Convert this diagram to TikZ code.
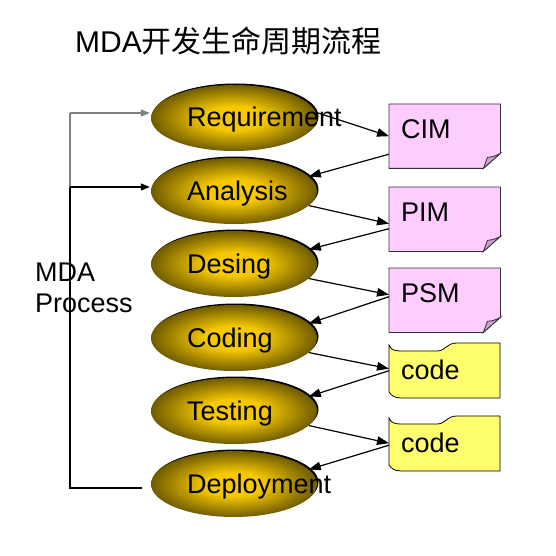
\documentclass[tikz,border=0pt]{standalone}
\usepackage{fontspec}
\setmainfont{Liberation Sans}
\newfontfamily\cjk{Noto Sans CJK SC}
\usetikzlibrary{calc,shapes.geometric,shadows,arrows.meta,backgrounds}

\definecolor{goldin}{RGB}{245,200,0}
\definecolor{goldout}{RGB}{112,92,0}
\definecolor{docpink}{RGB}{255,204,255}
\definecolor{docfold}{RGB}{204,160,210}
\definecolor{tapeyellow}{RGB}{255,255,110}

\pgfdeclareradialshading{goldball}{\pgfpoint{0bp}{0bp}}{%
  color(0bp)=(goldin); color(9bp)=(goldin); color(25bp)=(goldout); color(50bp)=(goldout)}

% folded-corner document behind a node
\newcommand{\docshape}[1]{%
  \filldraw[fill=docpink, draw=black!80, line width=0.8pt] (#1.north west) -- (#1.north east)
    -- ($(#1.south east)+(0,-15)$) -- ($(#1.south east)+(-17,0)$) -- (#1.south west) -- cycle;
  \filldraw[fill=docfold, draw=black!80, line width=0.8pt] ($(#1.south east)+(-17,0)$)
    .. controls ($(#1.south east)+(-15,-5)$) .. ($(#1.south east)+(-13,-11)$)
    .. controls ($(#1.south east)+(-6,-12)$) .. ($(#1.south east)+(0,-15)$) -- cycle;
}
% wavy tape behind a node
\newcommand{\tapeshape}[1]{%
  \begin{scope}[shift={(#1.north west)}]
    \filldraw[fill=tapeyellow, draw=black, line width=0.8pt] (0,3) .. controls (2,8) and (6,9) .. (12,9)
      -- (48,9) .. controls (57,9) and (57,1) .. (68,1) -- (111,1) -- (111,56)
      -- (12,56) .. controls (5,56) and (2,53) .. (0,50) -- cycle;
  \end{scope}
}

\begin{document}
\begin{tikzpicture}[x=1pt, y=-1pt,
    phase/.style={ellipse, minimum width=166pt, minimum height=66pt, inner sep=0pt,
      shade, shading=goldball,
      general shadow={fill=black, shadow xshift=1.5pt, shadow yshift=1.5pt}},
    phasetext/.style={anchor=base west, inner sep=0pt, font=\fontsize{27}{32}\selectfont},
    doc/.style={anchor=north west, text width=87pt, inner xsep=12pt, inner ysep=0pt,
      text height=34pt, text depth=30pt, font=\fontsize{27}{32}\selectfont},
    tape/.style={anchor=north west, text width=87pt, inner xsep=12pt, inner ysep=0pt,
      minimum height=56pt, font=\fontsize{27}{32}\selectfont},
    flow/.style={-{Triangle[length=12pt,width=8.5pt]}, line width=1.2pt}]

  \useasboundingbox (0,0) rectangle (555,556);

  % Title
  \node[anchor=base west, inner sep=0pt, font=\fontsize{30}{36}\selectfont] (title) at (75,53)
    {MDA{\cjk\fontsize{30}{36}\selectfont 开发生命周期流程}};

  % Phases
  \node[phase] (req) at (234,118) {};
  \node[phase] (ana) at (234,191) {};
  \node[phase] (des) at (234,264) {};
  \node[phase] (cod) at (234,338) {};
  \node[phase] (tst) at (234,411) {};
  \node[phase] (dep) at (234,484) {};

  \node[phasetext] (reqt) at (187,127) {Requirement};
  \node[phasetext] (anat) at (187,200) {Analysis};
  \node[phasetext] (dest) at (187,273) {Desing};
  \node[phasetext] (codt) at (187,347) {Coding};
  \node[phasetext] (tstt) at (187,420) {Testing};
  \node[phasetext] (dept) at (187,493) {Deployment};

  % Artefacts
  \node[doc] (cim) at (389,104) {CIM};
  \node[doc] (pim) at (389,187) {PIM};
  \node[doc] (psm) at (389,268) {PSM};
  \node[tape] (code1) at (389,342) {code};
  \node[tape] (code2) at (389,415) {code};

  \begin{scope}[on background layer]
    \docshape{cim}
    \docshape{pim}
    \docshape{psm}
    \tapeshape{code1}
    \tapeshape{code2}
  \end{scope}

  % Flow between phases and artefacts
  \foreach \src/\doc/\dst/\ang/\yin/\yout in
      {req/cim/ana/4/0/18, ana/pim/des/-11/4.5/9.5, des/psm/cod/-11/-5.5/-3.5,
       cod/code1/tst/-11/-1.5/0.5, tst/code2/dep/-11/0/2}
  {
    \draw[flow] (\src.\ang) -- ($(\doc.west)+(0,\yin)$);
    \draw[flow] ($(\doc.west)+(0,\yout)$) -- (\dst.11);
  }

  % MDA process bracket
  \coordinate (top) at (70,113);
  \coordinate (mid) at (70,187);
  \coordinate (bot) at (70,488);
  \draw[gray, line width=1.2pt] (mid) -- (top);
  \draw[gray, line width=1.2pt, -{Triangle[length=9pt,width=7pt]}] (top) -- ($(top -| req.west)+(-1,0)$);
  \draw[line width=1.2pt, -{Triangle[length=9pt,width=7pt]}] (mid) -- ($(mid -| ana.west)+(-1,0)$);
  \draw[line width=2pt] (mid) -- (bot) -- ($(bot -| dep.west)+(-9,0)$);

  \node[anchor=north west, align=left, inner sep=0pt, font=\fontsize{27}{31}\selectfont] (proc) at (35,263)
    {MDA\\Process};

\end{tikzpicture}
\end{document}
